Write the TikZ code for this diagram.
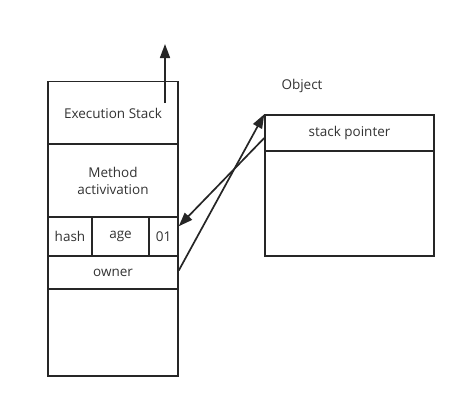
\documentclass[tikz,border=0pt]{standalone}
\usepackage{fontspec}
\setmainfont{Open Sans}
\usetikzlibrary{arrows.meta,calc}
\begin{document}
\begin{tikzpicture}[x=1pt,y=-1pt,
  cell/.style={draw=black!85, line width=1.5pt, rectangle, inner sep=0pt, font=\fontsize{13.5}{17}\selectfont, text=black!80, align=center},
  conn/.style={draw=black!85, line width=1.7pt, -{Triangle[length=14pt,width=10pt]}}]
\useasboundingbox (0,0) rectangle (466,408);
\node[cell, minimum width=130, minimum height=63] (exec) at (113,113) {Execution Stack};
\node[cell, minimum width=130, minimum height=73] (method) at (113,180.5) {Method\\activivation};
\node[cell, minimum width=44, minimum height=39] (hash) at (70,236.5) {hash};
\node[cell, minimum width=57, minimum height=39] (age) at (120.5,236.5) {age};
\node[cell, minimum width=29, minimum height=39] (o1) at (163.5,236.5) {01};
\node[cell, minimum width=130, minimum height=33] (owner) at (113,272.5) {owner};
\node[cell, minimum width=130, minimum height=87] (rest) at (113,332.5) {};
\node[cell, minimum width=169, minimum height=36] (objtop) at (349.5,133) {stack pointer};
\node[cell, minimum width=169, minimum height=105] (objbot) at (349.5,203.5) {};
\node[font=\fontsize{13.5}{17}\selectfont, text=black!80] (objlabel) at (302,86) {Object};
\coordinate (upstart) at (165,103);
\coordinate (upend) at (165,44);
\draw[conn] (upstart) -- (upend);
\draw[conn] ($(owner.east)+(0,-2)$) -- (objtop.north west);
\draw[conn] ($(objtop.west)+(0,5)$) -- ($(o1.north east)+(0,10)$);
\end{tikzpicture}
\end{document}
